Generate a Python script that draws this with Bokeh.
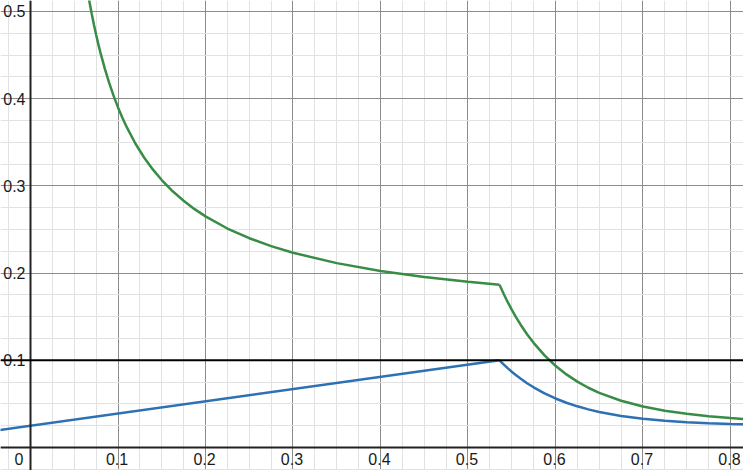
from bokeh.plotting import figure
from bokeh.models import Range1d, Span, SingleIntervalTicker, Grid
from bokeh.core.properties import value
from bokeh.embed import file_html
from bokeh.resources import INLINE

# ---- data ----
blue_line_x = [-0.04, 0.536]
blue_line_y = [0.0194, 0.1000]

decay_x = [0.536, 0.541, 0.545, 0.55, 0.555, 0.56, 0.5675, 0.575, 0.5875, 0.6, 0.6125, 0.625, 0.6375,
           0.65, 0.675, 0.7, 0.725, 0.75, 0.775, 0.8, 0.82]
blue_decay_y = [0.1000, 0.0951, 0.0913, 0.0869, 0.0828, 0.0790, 0.0737, 0.0690, 0.0620, 0.0562, 0.0513,
                0.0472, 0.0437, 0.0407, 0.0362, 0.0329, 0.0306, 0.0290, 0.0278, 0.0270, 0.0265]
green_decay_y = [0.1866, 0.1758, 0.1675, 0.1580, 0.1492, 0.1411, 0.1299, 0.1200, 0.1056, 0.0937, 0.0838,
                 0.0755, 0.0685, 0.0626, 0.0536, 0.0470, 0.0422, 0.0387, 0.0359, 0.0338, 0.0323]

green_x = [0.062, 0.065, 0.0675, 0.07, 0.0725, 0.075, 0.0775, 0.08, 0.085, 0.09, 0.095, 0.1, 0.105,
           0.11, 0.12, 0.13, 0.14, 0.15, 0.1625, 0.175, 0.1875, 0.2, 0.225, 0.25, 0.275, 0.3,
           0.35, 0.4, 0.45, 0.5, 0.536]
green_y = [0.5432, 0.5246, 0.5104, 0.4971, 0.4848, 0.4733, 0.4626, 0.4525, 0.4341, 0.4178, 0.4032,
           0.3900, 0.3781, 0.3673, 0.3483, 0.3323, 0.3186, 0.3067, 0.2938, 0.2829, 0.2733, 0.2650,
           0.2511, 0.2400, 0.2309, 0.2233, 0.2114, 0.2025, 0.1956, 0.1900, 0.1866]

threshold = 0.1

x_tick_values = [0.1, 0.2, 0.3, 0.4, 0.5, 0.6, 0.7, 0.8]
x_tick_labels = ["0.1", "0.2", "0.3", "0.4", "0.5", "0.6", "0.7", "0.8"]
y_tick_values = [0.1, 0.2, 0.3, 0.4, 0.5]
y_tick_labels = ["0.1", "0.2", "0.3", "0.4", "0.5"]
origin_label = ["0"]

BLUE = "#2d70b3"
GREEN = "#388c46"

p = figure(width=743, height=470, output_backend="svg", toolbar_location=None,
           x_axis_type=None, y_axis_type=None,
           x_range=Range1d(-0.0343, 0.8149), y_range=Range1d(-0.0264, 0.5126),
           min_border=0, outline_line_color=None)
p.background_fill_color = "white"
p.border_fill_color = "white"

for dim in (0, 1):
    g = Grid(dimension=dim, ticker=SingleIntervalTicker(interval=0.1, num_minor_ticks=4),
             grid_line_color="#8c8c8c", grid_line_width=1,
             minor_grid_line_color="#e2e2e2", minor_grid_line_width=1)
    p.add_layout(g, "center")

p.add_layout(Span(location=0, dimension="height", line_color="#222222", line_width=2))
p.add_layout(Span(location=0, dimension="width", line_color="#222222", line_width=2))
p.add_layout(Span(location=threshold, dimension="width", line_color="#000000", line_width=2))

p.line(green_x, green_y, line_color=GREEN, line_width=2.5)
p.line(decay_x, green_decay_y, line_color=GREEN, line_width=2.5)
p.line(blue_line_x, blue_line_y, line_color=BLUE, line_width=2.5)
p.line(decay_x, blue_decay_y, line_color=BLUE, line_width=2.5)

font = value("Liberation Sans")
fsize = value("16px")
p.text(x=x_tick_values, y=[0] * len(x_tick_values), text=x_tick_labels,
       text_align="center", text_baseline="middle", x_offset=-1, y_offset=12,
       text_font=font, text_font_size=fsize, text_color="#1a1a1a")
p.text(x=[0] * len(y_tick_values), y=y_tick_values, text=y_tick_labels,
       text_align="right", text_baseline="middle", x_offset=-5, y_offset=0,
       text_font=font, text_font_size=fsize, text_color="#1a1a1a")
p.text(x=[0], y=[0], text=origin_label,
       text_align="right", text_baseline="middle", x_offset=-7, y_offset=12,
       text_font=font, text_font_size=fsize, text_color="#1a1a1a")

open("out.html", "w").write(file_html(p, INLINE))
